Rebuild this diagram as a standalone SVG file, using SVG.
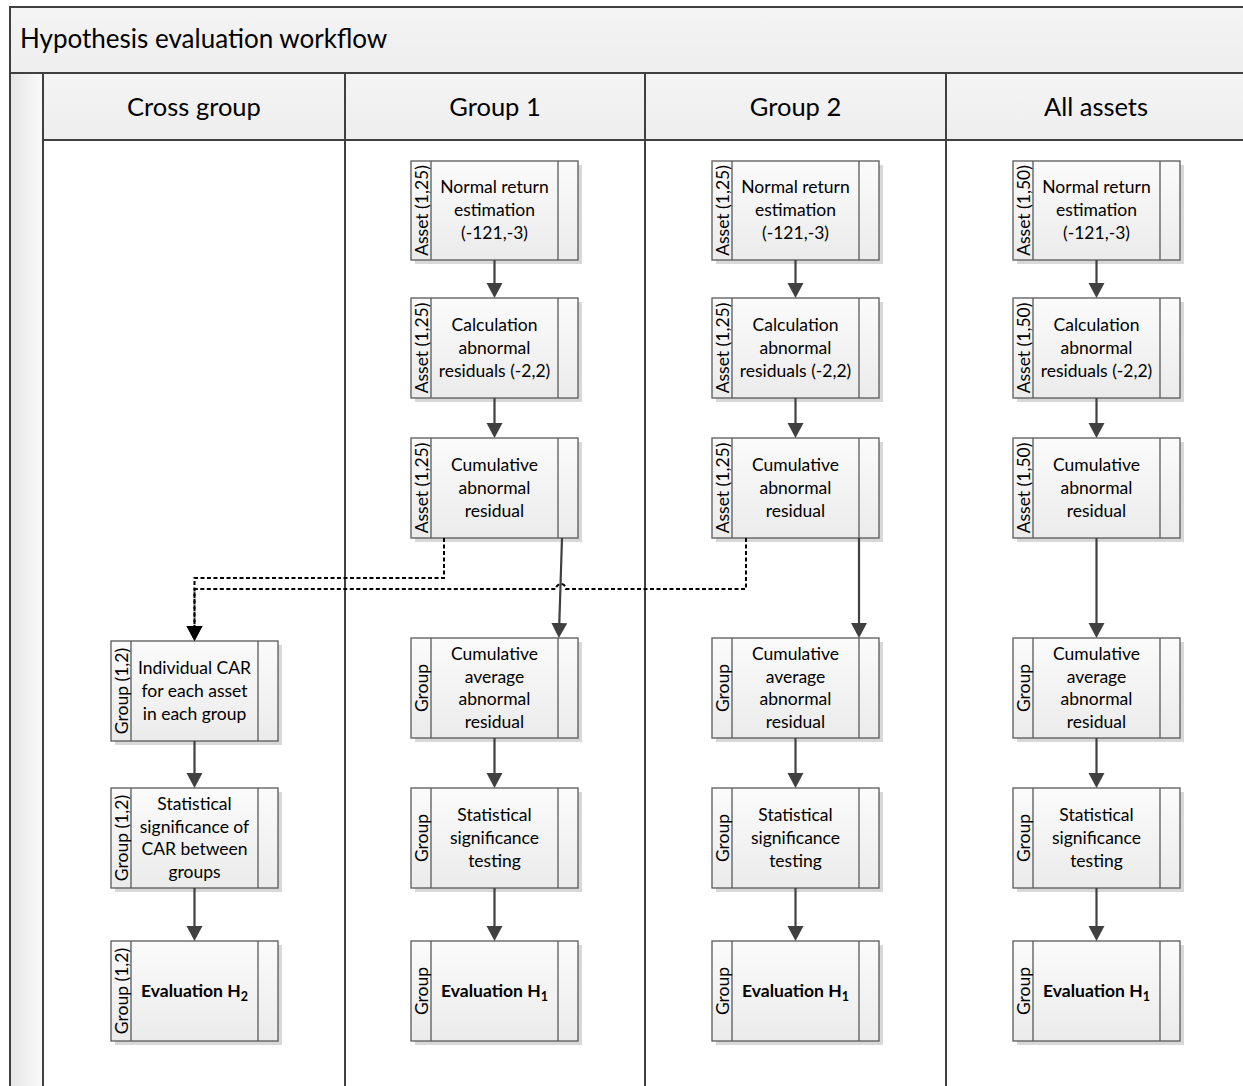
<svg xmlns="http://www.w3.org/2000/svg" width="1243" height="1086" viewBox="0 0 1243 1086">
<style>
.frame{fill:none;stroke:#404040;stroke-width:2}
.title{font-family:Lato,"Liberation Sans",sans-serif;font-size:26px;fill:#000}
.lane{font-family:Lato,"Liberation Sans",sans-serif;font-size:25.5px;fill:#000;text-anchor:middle}
.nt{font-family:Lato,"Liberation Sans",sans-serif;font-size:17.5px;fill:#000;text-anchor:middle}
.nb{font-family:Lato,"Liberation Sans",sans-serif;font-size:17.5px;font-weight:bold;fill:#000;text-anchor:middle}
.st{font-family:Lato,"Liberation Sans",sans-serif;font-size:17.5px;fill:#000;text-anchor:middle}
.box{fill:url(#nodeGrad);stroke:#595959;stroke-width:1.3}
.shadow{fill:#d8d8d8}
.div{stroke:#595959;stroke-width:1.3}
.arrow{fill:none;stroke:#404040;stroke-width:2.2;marker-end:url(#ah)}
.dash{fill:none;stroke:#000;stroke-width:2;stroke-dasharray:4 2.5;marker-end:url(#ahk)}
</style>
<defs>
<linearGradient id="nodeGrad" x1="0" y1="0" x2="0" y2="1">
<stop offset="0" stop-color="#fbfbfb"/>
<stop offset="1" stop-color="#ebebeb"/>
</linearGradient>
<linearGradient id="hdrGrad" x1="0" y1="0" x2="0" y2="1">
<stop offset="0" stop-color="#f4f4f4"/>
<stop offset="1" stop-color="#eeeeee"/>
</linearGradient>
<linearGradient id="stripGrad" x1="0" y1="0" x2="1" y2="0">
<stop offset="0" stop-color="#e6e6e6"/>
<stop offset="1" stop-color="#fafafa"/>
</linearGradient>
<marker id="ah" markerUnits="userSpaceOnUse" markerWidth="17" markerHeight="17" refX="7" refY="8" orient="auto">
<path d="M0,0 L15,8 L0,16 z" fill="#404040"/>
</marker>
<marker id="ahk" markerUnits="userSpaceOnUse" markerWidth="17" markerHeight="17" refX="7" refY="8" orient="auto">
<path d="M0,0 L15,8 L0,16 z" fill="#000"/>
</marker>
</defs>
<rect width="1243" height="1086" fill="#fff"/>

<g id="pool">
<rect x="10" y="7" width="1240" height="66" fill="url(#hdrGrad)"/>
<rect x="43" y="73" width="1207" height="67" fill="url(#hdrGrad)"/>
<rect x="10" y="73" width="33" height="1020" fill="url(#stripGrad)"/>
<path class="frame" d="M1250,7 H10 V1093 M10,73 H1250 M43,73 V1093 M43,140 H1250 M345,73 V1093 M645,73 V1093 M946,73 V1093"/>
<text class="title" x="20" y="48">Hypothesis evaluation workflow</text>
<text class="lane" x="194" y="116">Cross group</text>
<text class="lane" x="495" y="116">Group 1</text>
<text class="lane" x="795.5" y="116">Group 2</text>
<text class="lane" x="1096" y="116">All assets</text>
</g>

<!-- Group 1 -->
<g id="g1-normal">
<rect class="shadow" x="415" y="165" width="167" height="99"/>
<rect class="box" x="411" y="161" width="167" height="99"/>
<path class="div" d="M431,161 V260 M558,161 V260"/>
<text class="st" transform="translate(427.5,210.5) rotate(-90)">Asset (1,25)</text>
<text class="nt" x="494.5" y="193">Normal return</text>
<text class="nt" x="494.5" y="216">estimation</text>
<text class="nt" x="494.5" y="239">(-121,-3)</text>
</g>
<g id="g1-calc">
<rect class="shadow" x="415" y="302" width="167" height="100"/>
<rect class="box" x="411" y="298" width="167" height="100"/>
<path class="div" d="M431,298 V398 M558,298 V398"/>
<text class="st" transform="translate(427.5,348) rotate(-90)">Asset (1,25)</text>
<text class="nt" x="494.5" y="331">Calculation</text>
<text class="nt" x="494.5" y="354">abnormal</text>
<text class="nt" x="494.5" y="377">residuals (-2,2)</text>
</g>
<g id="g1-cum">
<rect class="shadow" x="415" y="442" width="167" height="100"/>
<rect class="box" x="411" y="438" width="167" height="100"/>
<path class="div" d="M431,438 V538 M558,438 V538"/>
<text class="st" transform="translate(427.5,488) rotate(-90)">Asset (1,25)</text>
<text class="nt" x="494.5" y="471">Cumulative</text>
<text class="nt" x="494.5" y="494">abnormal</text>
<text class="nt" x="494.5" y="517">residual</text>
</g>
<g id="g1-caar">
<rect class="shadow" x="415" y="642" width="167" height="100"/>
<rect class="box" x="411" y="638" width="167" height="100"/>
<path class="div" d="M431,638 V738 M558,638 V738"/>
<text class="st" transform="translate(427.5,688) rotate(-90)">Group</text>
<text class="nt" x="494.5" y="660">Cumulative</text>
<text class="nt" x="494.5" y="682.5">average</text>
<text class="nt" x="494.5" y="705">abnormal</text>
<text class="nt" x="494.5" y="727.5">residual</text>
</g>
<g id="g1-stat">
<rect class="shadow" x="415" y="792" width="167" height="100"/>
<rect class="box" x="411" y="788" width="167" height="100"/>
<path class="div" d="M431,788 V888 M558,788 V888"/>
<text class="st" transform="translate(427.5,838) rotate(-90)">Group</text>
<text class="nt" x="494.5" y="821">Statistical</text>
<text class="nt" x="494.5" y="844">significance</text>
<text class="nt" x="494.5" y="867">testing</text>
</g>
<g id="g1-eval">
<rect class="shadow" x="415" y="945" width="167" height="100"/>
<rect class="box" x="411" y="941" width="167" height="100"/>
<path class="div" d="M431,941 V1041 M558,941 V1041"/>
<text class="st" transform="translate(427.5,991) rotate(-90)">Group</text>
<text class="nb" x="494.5" y="997">Evaluation H<tspan font-size="12.5" dy="4">1</tspan></text>
</g>

<!-- Group 2 -->
<g id="g2-normal">
<rect class="shadow" x="716" y="165" width="167" height="99"/>
<rect class="box" x="712" y="161" width="167" height="99"/>
<path class="div" d="M732,161 V260 M859,161 V260"/>
<text class="st" transform="translate(728.5,210.5) rotate(-90)">Asset (1,25)</text>
<text class="nt" x="795.5" y="193">Normal return</text>
<text class="nt" x="795.5" y="216">estimation</text>
<text class="nt" x="795.5" y="239">(-121,-3)</text>
</g>
<g id="g2-calc">
<rect class="shadow" x="716" y="302" width="167" height="100"/>
<rect class="box" x="712" y="298" width="167" height="100"/>
<path class="div" d="M732,298 V398 M859,298 V398"/>
<text class="st" transform="translate(728.5,348) rotate(-90)">Asset (1,25)</text>
<text class="nt" x="795.5" y="331">Calculation</text>
<text class="nt" x="795.5" y="354">abnormal</text>
<text class="nt" x="795.5" y="377">residuals (-2,2)</text>
</g>
<g id="g2-cum">
<rect class="shadow" x="716" y="442" width="167" height="100"/>
<rect class="box" x="712" y="438" width="167" height="100"/>
<path class="div" d="M732,438 V538 M859,438 V538"/>
<text class="st" transform="translate(728.5,488) rotate(-90)">Asset (1,25)</text>
<text class="nt" x="795.5" y="471">Cumulative</text>
<text class="nt" x="795.5" y="494">abnormal</text>
<text class="nt" x="795.5" y="517">residual</text>
</g>
<g id="g2-caar">
<rect class="shadow" x="716" y="642" width="167" height="100"/>
<rect class="box" x="712" y="638" width="167" height="100"/>
<path class="div" d="M732,638 V738 M859,638 V738"/>
<text class="st" transform="translate(728.5,688) rotate(-90)">Group</text>
<text class="nt" x="795.5" y="660">Cumulative</text>
<text class="nt" x="795.5" y="682.5">average</text>
<text class="nt" x="795.5" y="705">abnormal</text>
<text class="nt" x="795.5" y="727.5">residual</text>
</g>
<g id="g2-stat">
<rect class="shadow" x="716" y="792" width="167" height="100"/>
<rect class="box" x="712" y="788" width="167" height="100"/>
<path class="div" d="M732,788 V888 M859,788 V888"/>
<text class="st" transform="translate(728.5,838) rotate(-90)">Group</text>
<text class="nt" x="795.5" y="821">Statistical</text>
<text class="nt" x="795.5" y="844">significance</text>
<text class="nt" x="795.5" y="867">testing</text>
</g>
<g id="g2-eval">
<rect class="shadow" x="716" y="945" width="167" height="100"/>
<rect class="box" x="712" y="941" width="167" height="100"/>
<path class="div" d="M732,941 V1041 M859,941 V1041"/>
<text class="st" transform="translate(728.5,991) rotate(-90)">Group</text>
<text class="nb" x="795.5" y="997">Evaluation H<tspan font-size="12.5" dy="4">1</tspan></text>
</g>

<!-- All assets -->
<g id="aa-normal">
<rect class="shadow" x="1017" y="165" width="167" height="99"/>
<rect class="box" x="1013" y="161" width="167" height="99"/>
<path class="div" d="M1033,161 V260 M1160,161 V260"/>
<text class="st" transform="translate(1029.5,210.5) rotate(-90)">Asset (1,50)</text>
<text class="nt" x="1096.5" y="193">Normal return</text>
<text class="nt" x="1096.5" y="216">estimation</text>
<text class="nt" x="1096.5" y="239">(-121,-3)</text>
</g>
<g id="aa-calc">
<rect class="shadow" x="1017" y="302" width="167" height="100"/>
<rect class="box" x="1013" y="298" width="167" height="100"/>
<path class="div" d="M1033,298 V398 M1160,298 V398"/>
<text class="st" transform="translate(1029.5,348) rotate(-90)">Asset (1,50)</text>
<text class="nt" x="1096.5" y="331">Calculation</text>
<text class="nt" x="1096.5" y="354">abnormal</text>
<text class="nt" x="1096.5" y="377">residuals (-2,2)</text>
</g>
<g id="aa-cum">
<rect class="shadow" x="1017" y="442" width="167" height="100"/>
<rect class="box" x="1013" y="438" width="167" height="100"/>
<path class="div" d="M1033,438 V538 M1160,438 V538"/>
<text class="st" transform="translate(1029.5,488) rotate(-90)">Asset (1,50)</text>
<text class="nt" x="1096.5" y="471">Cumulative</text>
<text class="nt" x="1096.5" y="494">abnormal</text>
<text class="nt" x="1096.5" y="517">residual</text>
</g>
<g id="aa-caar">
<rect class="shadow" x="1017" y="642" width="167" height="100"/>
<rect class="box" x="1013" y="638" width="167" height="100"/>
<path class="div" d="M1033,638 V738 M1160,638 V738"/>
<text class="st" transform="translate(1029.5,688) rotate(-90)">Group</text>
<text class="nt" x="1096.5" y="660">Cumulative</text>
<text class="nt" x="1096.5" y="682.5">average</text>
<text class="nt" x="1096.5" y="705">abnormal</text>
<text class="nt" x="1096.5" y="727.5">residual</text>
</g>
<g id="aa-stat">
<rect class="shadow" x="1017" y="792" width="167" height="100"/>
<rect class="box" x="1013" y="788" width="167" height="100"/>
<path class="div" d="M1033,788 V888 M1160,788 V888"/>
<text class="st" transform="translate(1029.5,838) rotate(-90)">Group</text>
<text class="nt" x="1096.5" y="821">Statistical</text>
<text class="nt" x="1096.5" y="844">significance</text>
<text class="nt" x="1096.5" y="867">testing</text>
</g>
<g id="aa-eval">
<rect class="shadow" x="1017" y="945" width="167" height="100"/>
<rect class="box" x="1013" y="941" width="167" height="100"/>
<path class="div" d="M1033,941 V1041 M1160,941 V1041"/>
<text class="st" transform="translate(1029.5,991) rotate(-90)">Group</text>
<text class="nb" x="1096.5" y="997">Evaluation H<tspan font-size="12.5" dy="4">1</tspan></text>
</g>

<!-- Cross group -->
<g id="cg-car">
<rect class="shadow" x="115" y="645" width="167" height="100"/>
<rect class="box" x="111" y="641" width="167" height="100"/>
<path class="div" d="M131,641 V741 M258,641 V741"/>
<text class="st" transform="translate(127.5,691) rotate(-90)">Group (1,2)</text>
<text class="nt" x="194.5" y="674">Individual CAR</text>
<text class="nt" x="194.5" y="697">for each asset</text>
<text class="nt" x="194.5" y="720">in each group</text>
</g>
<g id="cg-stat">
<rect class="shadow" x="115" y="792" width="167" height="100"/>
<rect class="box" x="111" y="788" width="167" height="100"/>
<path class="div" d="M131,788 V888 M258,788 V888"/>
<text class="st" transform="translate(127.5,838) rotate(-90)">Group (1,2)</text>
<text class="nt" x="194.5" y="810">Statistical</text>
<text class="nt" x="194.5" y="832.5">significance of</text>
<text class="nt" x="194.5" y="855">CAR between</text>
<text class="nt" x="194.5" y="877.5">groups</text>
</g>
<g id="cg-eval">
<rect class="shadow" x="115" y="945" width="167" height="100"/>
<rect class="box" x="111" y="941" width="167" height="100"/>
<path class="div" d="M131,941 V1041 M258,941 V1041"/>
<text class="st" transform="translate(127.5,991) rotate(-90)">Group (1,2)</text>
<text class="nb" x="194.5" y="997">Evaluation H<tspan font-size="12.5" dy="4">2</tspan></text>
</g>

<g id="connectors">
<path class="arrow" d="M494.5,260 V290"/>
<path class="arrow" d="M494.5,398 V430"/>
<path class="arrow" d="M562,538 L559.1,630"/>
<path class="arrow" d="M494.5,738 V780"/>
<path class="arrow" d="M494.5,888 V933"/>
<path class="arrow" d="M795.5,260 V290"/>
<path class="arrow" d="M795.5,398 V430"/>
<path class="arrow" d="M859,538 V630"/>
<path class="arrow" d="M795.5,738 V780"/>
<path class="arrow" d="M795.5,888 V933"/>
<path class="arrow" d="M1096.5,260 V290"/>
<path class="arrow" d="M1096.5,398 V430"/>
<path class="arrow" d="M1096.5,538 V630"/>
<path class="arrow" d="M1096.5,738 V780"/>
<path class="arrow" d="M1096.5,888 V933"/>
<path class="arrow" d="M194.5,741 V780"/>
<path class="arrow" d="M194.5,888 V933"/>
<path class="dash" d="M444,538 V578 H194.5 V633"/>
<path class="dash" d="M746,538 V589 H566 A5 5 0 0 0 556 589 H194.5 V633"/>
</g>
</svg>
